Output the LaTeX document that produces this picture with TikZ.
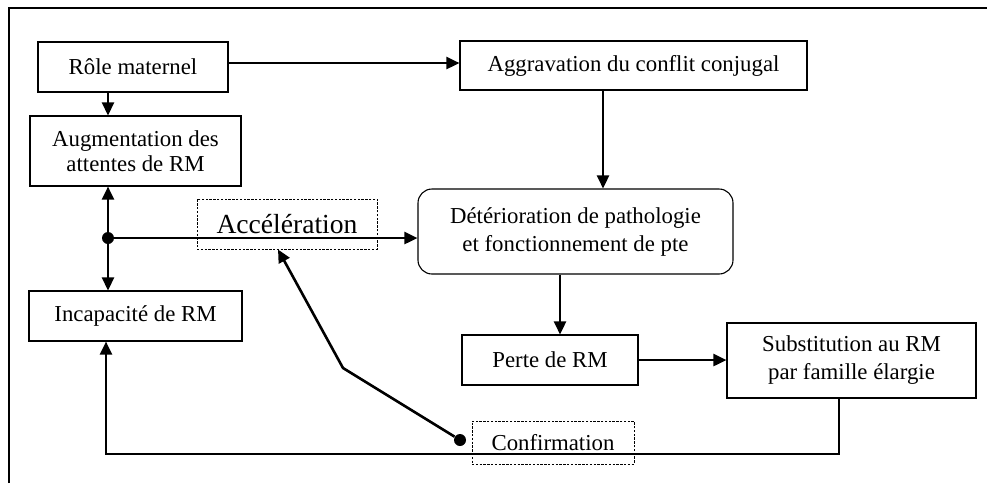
\documentclass[tikz,border=0pt]{standalone}
\usepackage{fontspec}
\setmainfont{Liberation Serif}
\usetikzlibrary{arrows.meta,calc}
\begin{document}
\begin{tikzpicture}[x=0.5pt,y=-0.5pt,
  box/.style={draw, line width=0.55pt, inner sep=0pt, align=center,
    font=\fontsize{11.4}{14}\selectfont},
  dbox/.style={draw, line width=0.45pt, dash pattern=on 1.2pt off 0.7pt,
    inner sep=0pt, align=center},
  link/.style={line width=1.3pt, -{Triangle[length=6.5pt,width=6pt]}},
  thinlink/.style={line width=0.6pt},
  dot/.style={circle, fill, inner sep=0pt, minimum size=6pt}
]
\useasboundingbox (0,0) rectangle (987,483);

% outer frame
\draw[line width=0.6pt] (9,483) -- (9,8) -- (987,8);

% boxes
\node[box, minimum width=95pt, minimum height=25pt] (role) at (133,67) {Rôle maternel};
\node[box, minimum width=173.5pt, minimum height=24.5pt] (aggr) at (633.5,65.5) {Aggravation du conflit conjugal};
\node[box, minimum width=105.5pt, minimum height=35pt, font=\fontsize{11.4}{12.5}\selectfont] (augm) at (135.5,151) {Augmentation des\\attentes de RM};
\node[dbox, minimum width=90pt, minimum height=25pt, font=\fontsize{13.8}{16}\selectfont] (accel) at (287,224) {Accélération};
\node[box, rounded corners=7pt, minimum width=157.5pt, minimum height=42.5pt] (deter) at (575.5,231.5) {Détérioration de pathologie\\et fonctionnement de pte};
\node[box, minimum width=106.5pt, minimum height=25pt] (incap) at (135.5,316) {Incapacité de RM};
\node[box, minimum width=88pt, minimum height=25pt] (perte) at (550,360) {Perte de RM};
\node[box, minimum width=124.5pt, minimum height=37.5pt] (subst) at (851.5,360.5) {Substitution au RM\\par famille élargie};
\node[dbox, minimum width=81pt, minimum height=21.5pt, font=\fontsize{11.4}{14}\selectfont] (confirm) at (553,442.5) {Confirmation};

% junctions and routing points
\node[dot] (j1) at (108,238) {};
\node[dot] (j2) at (460,440) {};
\coordinate (xr) at (108,0);
\coordinate (xa) at (603,0);
\coordinate (xd) at (560,0);
\coordinate (xc) at (278,0);
\coordinate (bend) at (343,368);
\coordinate (sx) at (839,454);
\coordinate (lc) at (106,454);

% connectors
\draw[link] ([yshift=2pt]role.east) -- ([yshift=2pt]role.east -| aggr.west);
\draw[link] (role.south -| xr) -- (augm.north -| xr);
\draw[link] (aggr.south -| xa) -- (deter.north -| xa);
\draw[link] (j1) -- (augm.south -| j1);
\draw[link] (j1) -- (incap.north -| j1);
\draw[link] (j1) -- (j1 -| deter.west);
\draw[link] (deter.south -| xd) -- (perte.north -| xd);
\draw[link] (perte.east) -- (subst.west |- perte.east);
\draw[link] (j2) -- (bend) -- (accel.south -| xc);
\draw[thinlink] (subst.south -| sx) -- (sx) -- (confirm.east |- sx);
\draw[link] (confirm.east |- sx) -- (lc) -- (incap.south -| lc);
\end{tikzpicture}
\end{document}
